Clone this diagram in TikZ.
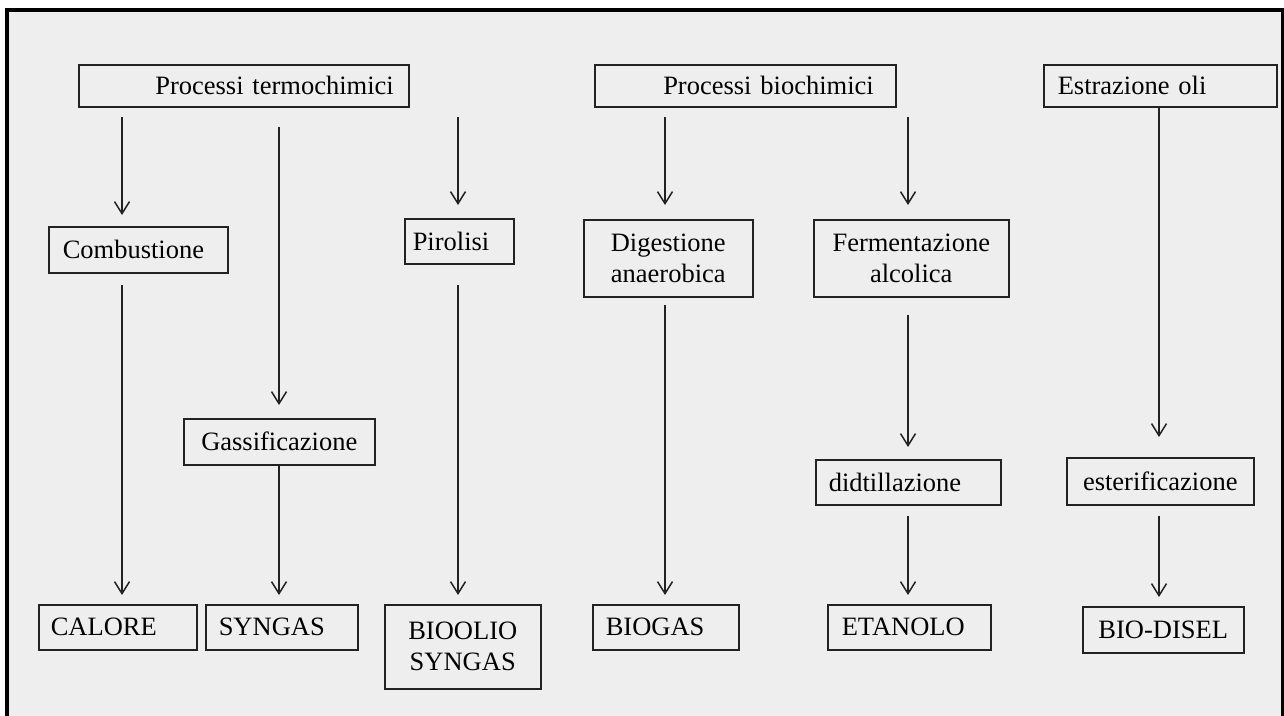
\documentclass[tikz,border=0pt]{standalone}
\usepackage{fontspec}
\setmainfont{Liberation Serif}[WordSpace=0.45]
\usetikzlibrary{arrows.meta}
\definecolor{bg}{HTML}{EEEEEE}
\definecolor{ink}{HTML}{222222}

\begin{document}
\begin{tikzpicture}[x=1pt,y=-1pt,font=\fontsize{26.5}{31}\selectfont,
  box/.style={draw=ink,line width=1.5pt,fill=bg,anchor=north west,inner ysep=0pt,align=center},
  lbox/.style 2 args={box,align=left,inner xsep=#1,text width=#2},
  rbox/.style 2 args={box,align=right,inner xsep=#1,text width=#2},
  arr/.style={draw=ink,line width=1.5pt,-{Straight Barb[length=12pt,width=15pt]}}]
\useasboundingbox (0,0) rectangle (1284,715);
\clip (0,0) rectangle (1284,715);
% frame
\draw[line width=4.5pt,fill=bg] (7,10) rectangle (1283,760);
% columns of the arrows
\coordinate (c1) at (122,0);
\coordinate (c2) at (279,0);
\coordinate (c3) at (458,0);
\coordinate (c4) at (665,0);
\coordinate (c5) at (908,0);
\coordinate (c6) at (1159,0);
% processes
\node[rbox={15pt}{300pt},minimum height=42pt] (term) at (78,64) {Processi termochimici};
\node[rbox={22pt}{257pt},minimum height=42pt] (bio) at (594,64) {Processi biochimici};
\node[lbox={14pt}{205pt},minimum height=42pt] (estr) at (1043,64) {Estrazione oli};
% steps
\node[lbox={14pt}{151pt},minimum height=46pt] (comb) at (48,226) {Combustione};
\node[lbox={8pt}{93pt},minimum height=45pt] (piro) at (404,218) {Pirolisi};
\node[box,minimum width=169pt,minimum height=77pt] (dige) at (583,219) {Digestione\\anaerobica};
\node[box,minimum width=195pt,minimum height=77pt] (ferm) at (813,219) {Fermentazione\\alcolica};
\node[box,minimum width=191pt,minimum height=46pt] (gass) at (183,418) {Gassificazione};
\node[lbox={13pt}{159pt},minimum height=45pt] (didt) at (815,459) {didtillazione};
\node[box,minimum width=187pt,minimum height=47pt] (ester) at (1066,457) {esterificazione};
% products
\node[lbox={12pt}{134pt},minimum height=45pt] (calore) at (38,604) {CALORE};
\node[lbox={13pt}{126pt},minimum height=45pt] (syngas) at (205,604) {SYNGAS};
\node[box,minimum width=156pt,minimum height=84pt] (bioolio) at (384,604) {BIOOLIO\\SYNGAS};
\node[lbox={13pt}{120pt},minimum height=45pt] (biogas) at (592,604) {BIOGAS};
\node[lbox={14pt}{135pt},minimum height=45pt] (etanolo) at (827,604) {ETANOLO};
\node[box,minimum width=161pt,minimum height=46pt] (biodisel) at (1082,606) {BIO-DISEL};
% arrows
\draw[arr,shorten <=9pt,shorten >=11pt] (c1 |- term.south) -- (c1 |- comb.north);
\draw[arr,shorten <=19pt,shorten >=13pt] (c2 |- term.south) -- (c2 |- gass.north);
\draw[arr,shorten <=9pt,shorten >=13pt] (c3 |- term.south) -- (c3 |- piro.north);
\draw[arr,shorten <=11pt,shorten >=9pt] (c1 |- comb.south) -- (c1 |- calore.north);
\draw[arr,shorten >=9pt] (c2 |- gass.south) -- (c2 |- syngas.north);
\draw[arr,shorten <=20pt,shorten >=9pt] (c3 |- piro.south) -- (c3 |- bioolio.north);
\draw[arr,shorten <=9pt,shorten >=14pt] (c4 |- bio.south) -- (c4 |- dige.north);
\draw[arr,shorten <=9pt,shorten >=14pt] (c5 |- bio.south) -- (c5 |- ferm.north);
\draw[arr,shorten <=7pt,shorten >=9pt] (c4 |- dige.south) -- (c4 |- biogas.north);
\draw[arr,shorten <=17pt,shorten >=12pt] (c5 |- ferm.south) -- (c5 |- didt.north);
\draw[arr,shorten <=10pt,shorten >=9pt] (c5 |- didt.south) -- (c5 |- etanolo.north);
\draw[arr,shorten >=20pt] (c6 |- estr.south) -- (c6 |- ester.north);
\draw[arr,shorten <=10pt,shorten >=9pt] (c6 |- ester.south) -- (c6 |- biodisel.north);
\end{tikzpicture}
\end{document}
